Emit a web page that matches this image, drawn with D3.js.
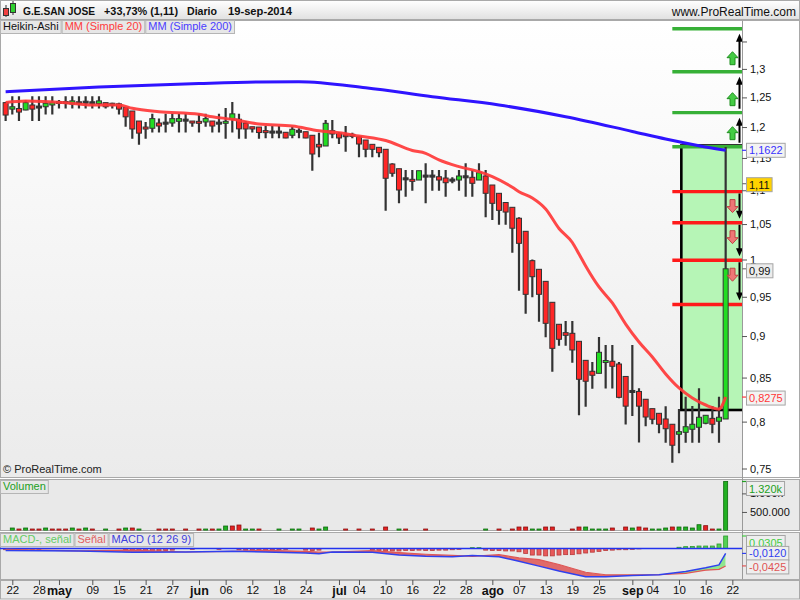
<!DOCTYPE html>
<html><head><meta charset="utf-8">
<script src="https://cdn.jsdelivr.net/npm/d3@7/dist/d3.min.js"></script>
<style>
html,body{margin:0;padding:0;background:#fff;}
svg{display:block;font-family:"Liberation Sans",Arial,Helvetica,sans-serif;}
</style></head><body>
<svg id="chart" width="800" height="600"></svg>
<script>
// ================= DATA =================
// trading-day index of first candle (0 = 22-abr-2014)
const firstIndex = -1;
const haOpen = [
1.241,1.230,1.231,1.2285,1.237,1.233,1.234,1.237,1.241,1.241,
1.2387,1.241,1.2415,1.241,1.2395,1.241,1.2385,1.239,1.233,1.2268,
1.210,1.200,1.198,1.2067,1.2067,1.2067,1.2095,1.2117,1.210,1.209,
1.2084,1.210,1.2067,1.2067,1.213,1.213,1.2067,1.2005,1.200,1.1935,
1.1919,1.1919,1.1914,1.1865,1.1925,1.1923,1.1865,1.1718,1.1691,1.1940,
1.1897,1.1874,1.1865,1.1842,1.1788,1.1718,1.1670,1.1638,1.1405,1.1331,
1.1176,1.1167,1.1156,1.1218,1.1218,1.1207,1.1187,1.1156,1.1156,1.1207,
1.1198,1.1156,1.1218,1.1080,1.0954,1.0816,1.0745,1.0584,1.0396,0.9984,
0.9866,0.9704,0.9428,0.9147,0.9042,0.9034,0.8935,0.8704,0.8574,0.8550,
0.8681,0.8693,0.8660,0.8513,0.8341,0.8339,0.8250,0.8144,0.8092,0.8029,
0.7971,0.7862,0.7883,0.7916,0.7938,0.7982,0.8036,0.8004,0.8029];
const haHigh = [
1.242,1.252,1.252,1.245,1.252,1.252,1.252,1.252,1.2455,1.252,
1.252,1.252,1.252,1.252,1.252,1.241,1.241,1.241,1.233,1.2268,
1.210,1.2084,1.222,1.214,1.222,1.222,1.222,1.222,1.210,1.222,
1.222,1.210,1.222,1.232,1.242,1.222,1.210,1.2005,1.200,1.2017,
1.2017,1.2017,1.1914,1.2005,1.1979,1.1923,1.1865,1.1907,1.2117,1.2117,
1.1919,1.2017,1.1907,1.1842,1.1788,1.1718,1.1670,1.1638,1.1416,1.1331,
1.1311,1.1311,1.1300,1.1416,1.1311,1.1311,1.1311,1.1198,1.1311,1.1416,
1.1311,1.1416,1.1311,1.1080,1.0954,1.0816,1.0745,1.0598,1.0396,1.0000,
0.9866,0.9704,0.9428,0.9147,0.9188,0.9188,0.8935,0.8704,0.8684,0.8988,
0.8890,0.8890,0.8684,0.8513,0.8890,0.8375,0.8250,0.8144,0.8092,0.8172,
0.7971,0.8140,0.8279,0.8174,0.8375,0.8070,0.8174,0.8279,1.1675];
const haLow = [
1.210,1.221,1.210,1.228,1.210,1.210,1.221,1.221,1.231,1.231,
1.231,1.231,1.231,1.231,1.231,1.231,1.231,1.221,1.2005,1.181,
1.171,1.181,1.191,1.191,1.191,1.2005,1.191,1.191,1.2005,1.191,
1.2005,1.191,1.191,1.181,1.191,1.181,1.181,1.191,1.181,1.1816,
1.1816,1.1816,1.1816,1.1816,1.1816,1.1816,1.1300,1.1511,1.1691,1.1816,
1.1723,1.1599,1.1816,1.1511,1.1511,1.1511,1.1511,1.0695,1.1207,1.0804,
1.0903,1.0993,1.1156,1.0804,1.0993,1.0993,1.0903,1.1106,1.0993,1.0903,
1.0903,1.1156,1.0598,1.0559,1.0491,1.0491,1.0094,0.9580,0.9281,0.9493,
0.9179,0.8984,0.8569,0.8881,0.8881,0.8676,0.8070,0.8166,0.8371,0.8550,
0.8373,0.8373,0.8261,0.7968,0.8062,0.7773,0.7950,0.7971,0.7873,0.7771,
0.7560,0.7659,0.7771,0.7771,0.7771,0.7971,0.7873,0.7771,0.8029];
const haClose = [
1.220,1.234,1.225,1.241,1.230,1.234,1.240,1.241,1.2415,1.2415,
1.244,1.2405,1.242,1.2405,1.244,1.234,1.238,1.230,1.217,1.1968,
1.190,1.197,1.214,1.2017,1.2062,1.214,1.214,1.2112,1.2067,1.2067,
1.214,1.2017,1.2062,1.209,1.222,1.197,1.1968,1.1968,1.191,1.1914,
1.1915,1.1915,1.1821,1.1963,1.1935,1.1821,1.1563,1.1675,1.2062,1.1886,
1.1821,1.1842,1.1862,1.1723,1.1638,1.1638,1.1584,1.1183,1.1260,1.1004,
1.1173,1.1136,1.1300,1.1215,1.1215,1.1156,1.1115,1.1153,1.1218,1.1204,
1.1106,1.1269,1.0954,1.0804,1.0700,1.0675,1.0440,1.0225,0.9532,0.9766,
0.9532,0.9159,0.8849,0.8960,0.9009,0.8829,0.8480,0.8457,0.8527,0.8801,
0.8702,0.8633,0.8272,0.8172,0.8337,0.8172,0.8051,0.8026,0.7971,0.7922,
0.7744,0.7890,0.7944,0.7971,0.8048,0.8070,0.7971,0.8048,0.9873];

// volume in thousands, and whether the day closed up (1) or down (0)
const volume = [
0,67,40,67,40,40,67,40,40,40,
67,40,67,40,0,40,0,40,67,67,
40,0,0,40,40,40,0,40,0,40,
40,40,40,121,121,148,40,40,40,0,
0,40,0,40,40,0,67,40,94,0,
0,40,0,40,0,40,0,94,0,40,
40,0,0,40,0,0,0,0,0,0,
0,0,40,0,40,0,40,94,94,40,
40,94,94,0,0,40,94,94,40,40,
40,67,0,94,67,94,67,40,40,67,
94,94,94,67,156,130,40,40,1320];
const volUp = [
0,1,0,1,0,0,1,0,0,0,
1,0,1,0,0,1,0,0,1,0,
1,0,0,0,0,0,0,0,0,0,
1,0,1,1,0,0,1,1,0,0,
0,1,0,1,1,0,0,1,1,0,
0,0,0,0,0,0,0,0,0,1,
0,0,0,0,0,0,0,0,0,0,
0,0,1,0,0,0,0,0,0,1,
1,0,0,0,0,0,0,1,1,1,
1,0,0,0,1,0,0,1,1,1,
0,1,1,1,1,0,0,1,1];

// MACD histogram (MACD - signal), one per candle
const macdHist = [
-0.003,-0.003,-0.002,-0.001,-0.002,-0.002,0,0,0,0,
0,0,0,0,0,0,0,0,-0.003,-0.005,
-0.006,-0.007,-0.007,-0.006,-0.005,-0.004,0,0,-0.002,0,
0,0,-0.002,0,0,-0.003,-0.004,-0.004,-0.004,-0.004,
-0.003,-0.003,-0.002,0,0,-0.004,-0.005,-0.004,0,0,
0,0,0,0,0,-0.004,-0.005,-0.006,-0.006,-0.006,
-0.005,-0.005,-0.004,-0.005,-0.005,-0.004,-0.004,-0.003,-0.002,0,
0.002,0.002,-0.004,-0.005,-0.005,-0.006,-0.006,-0.008,-0.012,-0.016,
-0.016,-0.018,-0.018,-0.016,-0.015,-0.015,-0.013,-0.011,-0.009,-0.007,
-0.005,-0.004,-0.003,-0.003,-0.002,-0.001,0,0,0,0,
0,0.003,0.0045,0.005,0.006,0.006,0.006,0.011,0.0305];

// MACD & signal lines, read at these candle indices
const macdIndex = [-1,10,18,26,33,38,44,46,48,54,58,62,66,69,73,76,79,82,86,89,93,97,101,104,106,107];
const macdLine  = [-0.005,-0.006,-0.009,-0.0085,-0.007,-0.0085,-0.011,-0.013,-0.0085,-0.009,-0.016,-0.019,-0.020,-0.017,-0.020,-0.031,-0.043,-0.055,-0.069,-0.069,-0.066,-0.064,-0.056,-0.047,-0.040,-0.012];
const signalLine= [-0.002,-0.006,-0.004,-0.0085,-0.007,-0.0045,-0.007,-0.009,-0.0085,-0.005,-0.010,-0.014,-0.017,-0.019,-0.015,-0.023,-0.027,-0.039,-0.058,-0.064,-0.064,-0.064,-0.0605,-0.053,-0.051,-0.0425];

// moving averages, read at these candle indices
const ma20Index = [-1,2,8,12,16,18,22,28,30,33,37,42,46,49,52,56,60,62,64,67,70,72,75,76,78,80,82,84,85,86,88,90,92,94,96,98,100,102,104,106,107];
const ma20Value = [1.2412,1.2438,1.2409,1.2370,1.2370,1.2314,1.2256,1.2212,1.2172,1.2128,1.2050,1.2017,1.1940,1.1907,1.1853,1.1780,1.1619,1.1574,1.1468,1.1363,1.1285,1.1207,1.1045,1.0978,1.0883,1.0720,1.0436,1.0237,1.0076,0.9911,0.9629,0.9419,0.9150,0.8927,0.8744,0.8542,0.8379,0.8264,0.8185,0.8140,0.8275];
const ma200Index = [-1,13,28,37,43,53,63,73,83,93,98,103,107];
const ma200Value = [1.2598,1.2680,1.2741,1.2768,1.2773,1.2668,1.2512,1.2370,1.2172,1.1927,1.1804,1.1696,1.1622];

// x axis
const xTickIndex = [0,4,7,12,16,20,24,28,32,36,40,44,49,52,56,60,64,68,72,76,80,84,88,93,96,100,104,108];
const xTickLabel = ["22","28","may","09","15","21","27","jun","06","12","18","24","jul","04","10","16","22","28","ago","07","13","19","25","sep","04","10","16","22"];
const monthLabels = ["may","jun","jul","ago","sep"];

// price axis
const priceTicks = [1.35,1.3,1.25,1.2,1.15,1.1,1.05,1,0.95,0.9,0.85,0.8,0.75];
const priceTickLabel = ["","1,3","1,25","1,2","1,15","1,1","1,05","1","0,95","0,9","0,85","0,8","0,75"];

// annotation: targets and box
const targetsUp = [1.374,1.295,1.224,1.168];
const targetsDown = [1.098,1.052,0.999,0.940];
const targetStartIndex = 99;
const boxStartIndex = 100.35;
const boxTop = 1.1699, boxBottom = 0.8129;

// last values
const lastClose = 1.11, lastHa = 0.9873, lastMa20 = 0.8275, lastMa200 = 1.1622;
const volTicks = [500,1000], volTickLabel = ["500.000","1.000k"];
const lastVol = 1320;
const lastHist = 0.0305, lastMacd = -0.0120, lastSignal = -0.0425;

// ================= DRAWING =================
const svg = d3.select("#chart");
const defs = svg.append("defs");
function vGrad(id,c0,c1){
  const g = defs.append("linearGradient").attr("id",id).attr("x1",0).attr("y1",0).attr("x2",0).attr("y2",1);
  g.append("stop").attr("offset","0%").attr("stop-color",c0);
  g.append("stop").attr("offset","100%").attr("stop-color",c1);
}
vGrad("hdr","#ffffff","#e1e1e1");
vGrad("pbg","#ffffff","#ebebeb");

const PR = 742;
const P = {top:20.5,bottom:477.5}, V = {top:479.5,bottom:530.5}, M = {top:532.5,bottom:579.5};
const BORDER = "#a9a9a9";

function clip(id,y0,y1){
  defs.append("clipPath").attr("id",id).append("rect").attr("x",0).attr("y",y0).attr("width",PR).attr("height",y1-y0);
}
clip("cp",P.top,P.bottom); clip("cv",V.top,V.bottom); clip("cm",M.top,M.bottom);

// scales
const x = d3.scaleLinear().domain([-1.845,109.45]).range([0,PR]);
const yP = d3.scaleLog().domain([0.75,1.3]).range([468.5,68.9]);
const yV = d3.scaleLinear().domain([0,1320]).range([530.5,481.5]);
const yM = d3.scaleLinear().domain([0,0.0305]).range([548.5,536]);

// backgrounds
svg.append("rect").attr("width",800).attr("height",600).attr("fill","#fff");
svg.append("rect").attr("x",0.5).attr("y",0.5).attr("width",799).attr("height",19).attr("fill","url(#hdr)").attr("stroke",BORDER);
svg.append("rect").attr("x",0.5).attr("y",P.top).attr("width",PR-0.5).attr("height",P.bottom-P.top).attr("fill","url(#pbg)");
svg.append("rect").attr("x",PR).attr("y",P.top).attr("width",800-PR).attr("height",P.bottom-P.top).attr("fill","#fff");
svg.append("rect").attr("x",0.5).attr("y",P.top).attr("width",799).attr("height",P.bottom-P.top).attr("fill","none").attr("stroke",BORDER);
[[V.top,V.bottom],[M.top,M.bottom]].forEach(([a,b])=>{
  svg.append("rect").attr("x",0.5).attr("y",a).attr("width",799).attr("height",b-a).attr("fill","#e9e9e9").attr("stroke",BORDER);
});
svg.append("rect").attr("x",0.5).attr("y",580.5).attr("width",799).attr("height",18.5).attr("fill","#eaeaea").attr("stroke",BORDER);
svg.append("line").attr("x1",PR+0.5).attr("x2",PR+0.5).attr("y1",P.top).attr("y2",M.bottom).attr("stroke","#9a9a9a");

// header
const icon = svg.append("g");
icon.append("line").attr("x1",6).attr("x2",6).attr("y1",5).attr("y2",17).attr("stroke","#333");
icon.append("rect").attr("x",3.5).attr("y",8.5).attr("width",5).attr("height",7).attr("fill","#f04040").attr("stroke","#333");
icon.append("line").attr("x1",13).attr("x2",13).attr("y1",1).attr("y2",15).attr("stroke","#333");
icon.append("rect").attr("x",10.5).attr("y",3.5).attr("width",5).attr("height",9).attr("fill","#30d030").attr("stroke","#333");
const titleParts = [["G.E.SAN JOSE",23,72],["+33,73% (1,11)",104,74],["Diario",187,30],["19-sep-2014",228,64]];
titleParts.forEach(([t,xx,w])=>{
  svg.append("text").attr("x",xx).attr("y",15).attr("font-size",11.5).attr("font-weight","bold").attr("fill","#111")
    .attr("textLength",w).attr("lengthAdjust","spacingAndGlyphs").text(t);
});
svg.append("text").attr("x",796).attr("y",15.5).attr("text-anchor","end").attr("font-size",12).attr("fill","#111").text("www.ProRealTime.com");

function labelRow(items,x0,y0,h,fs){
  let xx = x0;
  items.forEach(([t,c])=>{
    const g = svg.append("g");
    const r = g.append("rect").attr("x",xx+0.5).attr("y",y0+0.5).attr("height",h).attr("fill","#e7e7e7").attr("stroke","#b5b5b5");
    const tx = g.append("text").attr("x",xx+3).attr("y",y0+h-3).attr("font-size",fs).attr("fill",c).text(t);
    const w = tx.node().getComputedTextLength()+5;
    r.attr("width",w);
    xx += w+1;
  });
}
labelRow([["Heikin-Ashi","#111"],["MM (Simple 20)","#ff3b3b"],["MM (Simple 200)","#4a3cff"]],0,20,13,11);

// ---- price panel ----
const gp = svg.append("g").attr("clip-path","url(#cp)");
// box
gp.append("rect").attr("x",x(boxStartIndex)).attr("y",yP(boxTop)).attr("width",PR-x(boxStartIndex)+3)
  .attr("height",yP(boxBottom)-yP(boxTop)).attr("fill","#b6f5b6").attr("stroke","#000").attr("stroke-width",2.6);
// target lines
targetsUp.forEach(v=>{
  gp.append("line").attr("x1",x(targetStartIndex)).attr("x2",PR).attr("y1",yP(v)).attr("y2",yP(v)).attr("stroke","#37b037").attr("stroke-width",3.4);
});
targetsDown.forEach(v=>{
  gp.append("line").attr("x1",x(targetStartIndex)).attr("x2",PR).attr("y1",yP(v)).attr("y2",yP(v)).attr("stroke","#ff1a1a").attr("stroke-width",3.4);
});

// candles
const candles = haOpen.map((o,k)=>({i:firstIndex+k,o,h:haHigh[k],l:haLow[k],c:haClose[k]}));
const gc = gp.append("g");
gc.selectAll("line.w").data(candles).join("line").attr("class","w")
  .attr("x1",d=>x(d.i)).attr("x2",d=>x(d.i)).attr("y1",d=>yP(d.h)).attr("y2",d=>yP(d.l))
  .attr("stroke","#333").attr("stroke-width",2.2);
gc.selectAll("rect.b").data(candles).join("rect").attr("class","b")
  .attr("x",d=>x(d.i)-2.5).attr("width",5)
  .attr("y",d=>{const a=yP(Math.max(d.o,d.c)), b=yP(Math.min(d.o,d.c)); return b-a<1.5 ? (a+b)/2-1 : a;})
  .attr("height",d=>{const a=yP(Math.max(d.o,d.c)), b=yP(Math.min(d.o,d.c)); return Math.max(b-a,2);})
  .attr("fill",d=>{const a=yP(Math.max(d.o,d.c)), b=yP(Math.min(d.o,d.c)); if(b-a<0.8) return "#333"; return d.c>=d.o?"#22dd22":"#ff2626";})
  .attr("stroke","#333").attr("stroke-width",1);

// moving averages
const maLine = d3.line().x(d=>x(d[0])).y(d=>yP(d[1])).curve(d3.curveMonotoneX);
gp.append("path").attr("d",maLine(ma200Index.map((d,k)=>[d,ma200Value[k]]))).attr("fill","none").attr("stroke","#2f14ff").attr("stroke-width",3);
gp.append("path").attr("d",maLine(ma20Index.map((d,k)=>[d,ma20Value[k]]))).attr("fill","none").attr("stroke","#ff3838").attr("stroke-width",3).attr("stroke-opacity",0.92);

// arrows
const ax = PR-2.5, bx = PR-9.5;
function blackArrow(y0,y1){ // from y0 (tail) to y1 (tip)
  const dir = y1<y0 ? 1 : -1;
  gp.append("line").attr("x1",ax).attr("x2",ax).attr("y1",y0).attr("y2",y1+dir*6).attr("stroke","#000").attr("stroke-width",2);
  gp.append("path").attr("d",`M${ax},${y1} L${ax-3.5},${y1+dir*8} L${ax+3.5},${y1+dir*8} Z`).attr("fill","#000");
}
function blockArrow(yTip,up,fill,stroke){
  const d = up?1:-1, cx=bx;
  const pts = [[cx,yTip],[cx+5.5,yTip+d*6],[cx+2.5,yTip+d*6],[cx+2.5,yTip+d*13],[cx-2.5,yTip+d*13],[cx-2.5,yTip+d*6],[cx-5.5,yTip+d*6]];
  gp.append("polygon").attr("points",pts.map(p=>p.join(",")).join(" ")).attr("fill",fill).attr("stroke",stroke).attr("stroke-width",1);
}
for(let k=0;k<targetsUp.length-1;k++){
  const upper = yP(targetsUp[k]), lower = yP(targetsUp[k+1]);
  blackArrow(lower-4, upper+5);
  blockArrow(lower-20, true, "#44cc44", "#1f8f1f");
}
for(let k=0;k<targetsDown.length-1;k++){
  const upper = yP(targetsDown[k]), lower = yP(targetsDown[k+1]);
  blackArrow(upper+2, lower-4);
  blockArrow(upper+21, false, "#ee7777", "#c04444");
}

// price axis
const pAxis = svg.append("g").attr("transform",`translate(${PR},0)`)
  .call(d3.axisRight(yP).tickValues(priceTicks).tickFormat((d,k)=>priceTickLabel[k]).tickSize(5).tickPadding(3));
pAxis.select(".domain").remove();
pAxis.selectAll("text").attr("font-size",11).attr("fill","#111").attr("font-family","Liberation Sans, Arial, sans-serif");
pAxis.selectAll("line").attr("stroke","#555");

function valueBox(yv,yBox,text,color,bg,tickColor){
  svg.append("line").attr("x1",PR).attr("x2",PR+5).attr("y1",yv).attr("y2",yv).attr("stroke",tickColor).attr("stroke-width",1.2);
  const r = svg.append("rect").attr("x",PR+4.5).attr("y",yBox-7).attr("height",14).attr("fill",bg).attr("stroke","#a5a5a5");
  const t = svg.append("text").attr("x",PR+7).attr("y",yBox+4).attr("font-size",11).attr("fill",color).text(text);
  r.attr("width",t.node().getComputedTextLength()+5);
}
valueBox(yP(lastMa200),yP(lastMa200),"1,1622","#3a32ff","#f3f3f3","#3a32ff");
valueBox(yP(lastClose),yP(lastClose)+1,"1,11","#111","#ffd200","#777");
valueBox(yP(lastHa),yP(lastHa)+2,"0,99","#111","#ececec","#777");
valueBox(yP(lastMa20),yP(lastMa20)+1,"0,8275","#ff3838","#f3f3f3","#ff3838");

svg.append("text").attr("x",3).attr("y",473).attr("font-size",11).attr("fill","#222").text("© ProRealTime.com");

// ---- volume panel ----
const gv = svg.append("g").attr("clip-path","url(#cv)");
const vdata = volume.map((v,k)=>({i:firstIndex+k,v,up:volUp[k]})).filter(d=>d.v>0);
gv.selectAll("rect").data(vdata).join("rect")
  .attr("x",d=>x(d.i)-2).attr("width",4).attr("y",d=>yV(d.v)).attr("height",d=>yV(0)-yV(d.v))
  .attr("fill",d=>d.up?"#22b022":"#e42222").attr("stroke",d=>d.up?"#0d6a0d":"#8a1010").attr("stroke-width",0.8);
const vAxis = svg.append("g").attr("transform",`translate(${PR},0)`)
  .call(d3.axisRight(yV).tickValues(volTicks).tickFormat((d,k)=>volTickLabel[k]).tickSize(5).tickPadding(3));
vAxis.select(".domain").remove();
vAxis.selectAll("text").attr("font-size",11).attr("fill","#111").attr("font-family","Liberation Sans, Arial, sans-serif");
vAxis.selectAll("line").attr("stroke","#555");
valueBox(yV(lastVol),Math.max(yV(lastVol),V.top+9),"1.320k","#22a022","#eeeeee","#22a022");
labelRow([["Volumen","#22a022"]],0,480,13,11);

// ---- MACD panel ----
const gm = svg.append("g").attr("clip-path","url(#cm)");
const hdata = macdHist.map((h,k)=>({i:firstIndex+k,h})).filter(d=>d.h!==0);
gm.selectAll("rect").data(hdata).join("rect")
  .attr("x",d=>x(d.i)-2).attr("width",4)
  .attr("y",d=>Math.min(yM(0),yM(d.h))).attr("height",d=>Math.abs(yM(d.h)-yM(0)))
  .attr("fill",d=>d.h>0?"#55d055":"#e85a5a").attr("stroke",d=>d.h>0?"#2c9a2c":"#b83a3a").attr("stroke-width",0.8);
gm.append("line").attr("x1",0).attr("x2",PR).attr("y1",yM(0)).attr("y2",yM(0)).attr("stroke","#2233ee").attr("stroke-width",1.3);
const md = macdIndex.map((d,k)=>({i:d,m:macdLine[k],s:signalLine[k]}));
const clipRed = d3.area().x(d=>x(d.i)).y0(M.bottom+5).y1(d=>yM(d.s));
const clipGreen = d3.area().x(d=>x(d.i)).y0(M.top-5).y1(d=>yM(d.s));
defs.append("clipPath").attr("id","cred").append("path").attr("d",clipRed(md));
defs.append("clipPath").attr("id","cgreen").append("path").attr("d",clipGreen(md));
const between = d3.area().x(d=>x(d.i)).y0(d=>yM(d.s)).y1(d=>yM(d.m));
gm.append("path").attr("d",between(md)).attr("fill","#e06a6a").attr("clip-path","url(#cred)");
gm.append("path").attr("d",between(md)).attr("fill","#8fe68f").attr("clip-path","url(#cgreen)");
gm.append("path").attr("d",d3.line().x(d=>x(d.i)).y(d=>yM(d.s))(md)).attr("fill","none").attr("stroke","#e05555").attr("stroke-width",1.2);
gm.append("path").attr("d",d3.line().x(d=>x(d.i)).y(d=>yM(d.m))(md)).attr("fill","none").attr("stroke","#3040ee").attr("stroke-width",1.5);
valueBox(yM(lastHist),Math.max(yM(lastHist),M.top+10),"0,0305","#44cc44","#eeeeee","#44cc44");
valueBox(yM(lastMacd),yM(lastMacd),"-0,0120","#3040ee","#eeeeee","#3040ee");
valueBox(yM(lastSignal),yM(lastSignal)+1,"-0,0425","#e05555","#eeeeee","#e05555");
labelRow([["MACD-, señal","#66cc66"],["Señal","#e06060"],["MACD (12 26 9)","#4040dd"]],0,533,13,11);

// ---- x axis ----
const xAxis = svg.append("g").attr("transform","translate(0,580)")
  .call(d3.axisBottom(x).tickValues(xTickIndex).tickFormat((d,k)=>xTickLabel[k]).tickSize(5).tickPadding(1));
xAxis.select(".domain").remove();
xAxis.selectAll("line").attr("stroke","#555");
xAxis.selectAll("text").attr("font-family","Liberation Sans, Arial, sans-serif").attr("fill","#111")
  .attr("font-size",(d,k)=>monthLabels.includes(xTickLabel[k])?12.5:11.5)
  .attr("font-weight",(d,k)=>monthLabels.includes(xTickLabel[k])?"bold":"normal");
</script>
</body></html>
